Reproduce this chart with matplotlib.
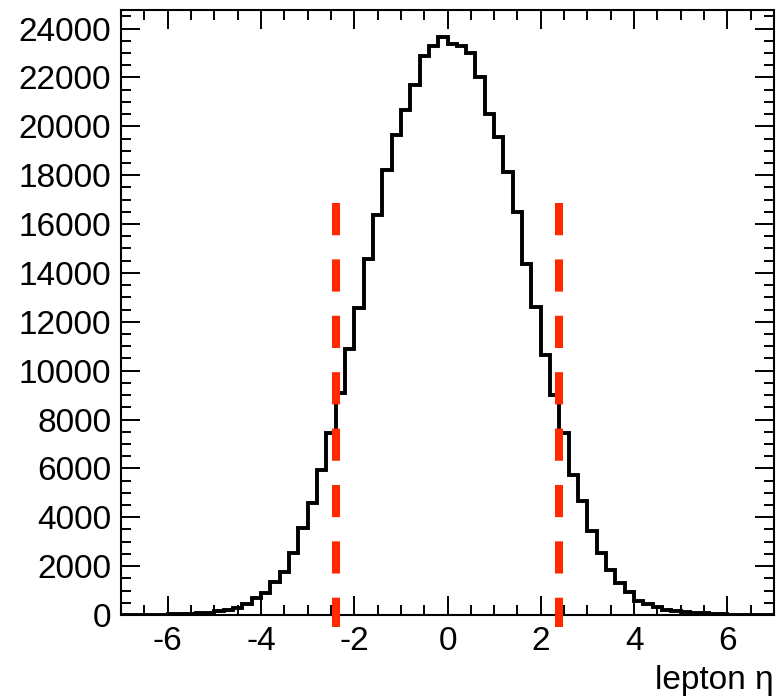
import matplotlib
matplotlib.use("Agg")
import matplotlib.pyplot as plt
from matplotlib.ticker import MultipleLocator
import numpy as np

plt.rcParams['font.family'] = ['Liberation Sans', 'DejaVu Sans']
plt.rcParams['axes.unicode_minus'] = False

# lepton eta histogram, 70 bins of width 0.2 from -7 to 7
eta_lo, eta_hi, n_bins = -7.0, 7.0, 70
counts = [
    5, 8, 10, 15, 20, 28, 35, 45, 70, 95,
    150, 195, 270, 450, 690, 880, 1360, 1780, 2550, 3560,
    4600, 5930, 7460, 9070, 10870, 12580, 14570, 16370, 18210, 19650,
    20670, 21680, 22890, 23290, 23650,
    23350, 23300, 22990, 22030, 20510, 19580, 18150, 16480, 14360, 12600,
    10640, 9020, 7460, 5750, 4650, 3420, 2540, 1860, 1300, 930,
    580, 460, 330, 210, 170, 110, 95, 80, 40, 30,
    20, 15, 10, 7, 5,
]
cut_eta = [-2.4, 2.4]
cut_top = 16850
cut_bottom = -490

edges = np.linspace(eta_lo, eta_hi, n_bins + 1)

fig = plt.figure(figsize=(7.77, 6.96), dpi=100)
ax = fig.add_axes([121 / 777, 81 / 696, 653 / 777, 605 / 696])

ax.stairs(counts, edges, baseline=None, color='black', lw=2.8, zorder=3)

for x in cut_eta:
    ax.plot([x, x], [cut_top, cut_bottom], color='#ff2a00', lw=5.8,
            dashes=(4, 3), solid_capstyle='butt', dash_capstyle='butt',
            clip_on=False, zorder=4)

ax.set_xlim(eta_lo, eta_hi)
ax.set_ylim(0, 24760)

ax.xaxis.set_major_locator(MultipleLocator(2))
ax.xaxis.set_minor_locator(MultipleLocator(0.5))
ax.yaxis.set_major_locator(MultipleLocator(2000))
ax.yaxis.set_minor_locator(MultipleLocator(500))

ax.tick_params(which='both', direction='in', top=True, right=True,
               width=1.4, labelsize=24, colors='black')
ax.tick_params(which='major', length=13.5)
ax.tick_params(which='minor', length=7)
ax.tick_params(axis='y', pad=7)
ax.tick_params(axis='x', pad=8)

for s in ax.spines.values():
    s.set_linewidth(1.5)

ax.set_xlabel('lepton η', fontsize=24, loc='right', labelpad=6)

fig.savefig('out.png', dpi=100)
